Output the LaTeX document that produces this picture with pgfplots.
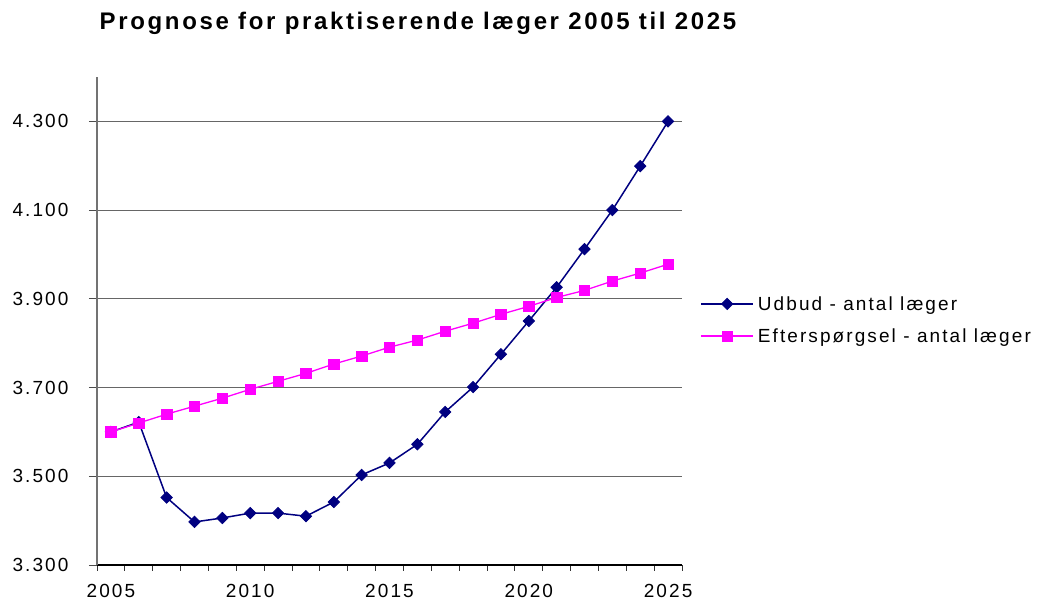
\documentclass[border=0pt]{standalone}
\usepackage{pgfplots}
\pgfplotsset{compat=1.18}
\usepackage{fontspec}
\setmainfont{Liberation Sans}[LetterSpace=11]
\newfontfamily\titlefont{Liberation Sans}[LetterSpace=11]
\definecolor{udbud}{RGB}{0,0,128}
\definecolor{efter}{RGB}{255,0,255}
\begin{document}
\begin{tikzpicture}
\path[use as bounding box] (0,0) rectangle (1039bp,604bp);
\node[anchor=center, font=\titlefont\bfseries\fontsize{24bp}{28bp}\selectfont] at (418bp,581bp) {Prognose for praktiserende læger 2005 til 2025};
\begin{axis}[
  at={(97bp,39bp)}, anchor=south west,
  scale only axis, width=585bp, height=488bp,
  xmin=-0.5, xmax=20.5, ymin=3300, ymax=4400,
  axis x line*=bottom, axis y line*=left,
  x axis line style={black, line width=1.1bp, -},
  y axis line style={black!55, line width=1.1bp, -},
  tick align=outside,
  xtick={0,5,10,15,20},
  xticklabels={2005,2010,2015,2020,2025},
  minor xtick={-0.5,0.5,1.5,2.5,3.5,4.5,5.5,6.5,7.5,8.5,9.5,10.5,11.5,12.5,13.5,14.5,15.5,16.5,17.5,18.5,19.5,20.5},
  major x tick style={draw=none},
  minor x tick style={black!80, line width=0.9bp},
  minor tick length=6bp,
  ytick={3300,3500,3700,3900,4100,4300},
  major y tick style={black!70, line width=0.9bp},
  major tick length=8bp,
  ymajorgrids,
  grid style={black!60, line width=1bp},
  /pgf/number format/assume math mode=true,
  yticklabel style={/pgf/number format/fixed, /pgf/number format/1000 sep={.}, xshift=-17bp},
  xticklabel style={yshift=-8bp},
  tick label style={font=\fontsize{19bp}{22bp}\selectfont},
  legend style={at={(1.026,0.502)}, anchor=west, draw=none, fill=none,
    font=\fontsize{19bp}{22bp}\selectfont, row sep=13bp,
    /tikz/every odd column/.append style={column sep=2bp}},
  legend cell align=left,
  legend image code/.code={\draw[#1,mark repeat=2,mark phase=2] plot coordinates {(0bp,0bp) (26bp,0bp) (52bp,0bp)};},
]
\addplot[color=udbud, line width=1.5bp, mark=square*, mark size=4bp, mark options={rotate=45, fill=udbud, line width=0.8bp}]
coordinates {
(0,3600) (1,3622) (2,3452) (3,3397) (4,3406) (5,3417) (6,3417) (7,3410) (8,3442) (9,3503)
(10,3530) (11,3572) (12,3645) (13,3701) (14,3775) (15,3850) (16,3926) (17,4012) (18,4100) (19,4199) (20,4300)
};
\addlegendentry{Udbud - antal læger}
\addplot[color=efter, line width=1.3bp, mark=square*, mark size=5.2bp, mark options={fill=efter, line width=0.6bp}]
coordinates {
(0,3600) (1,3620) (2,3640) (3,3658) (4,3676) (5,3696) (6,3714) (7,3732) (8,3753) (9,3771)
(10,3791) (11,3807) (12,3827) (13,3845) (14,3865) (15,3883) (16,3903) (17,3919) (18,3940) (19,3958) (20,3978)
};
\addlegendentry{Efterspørgsel - antal læger}
\end{axis}
\end{tikzpicture}
\end{document}
